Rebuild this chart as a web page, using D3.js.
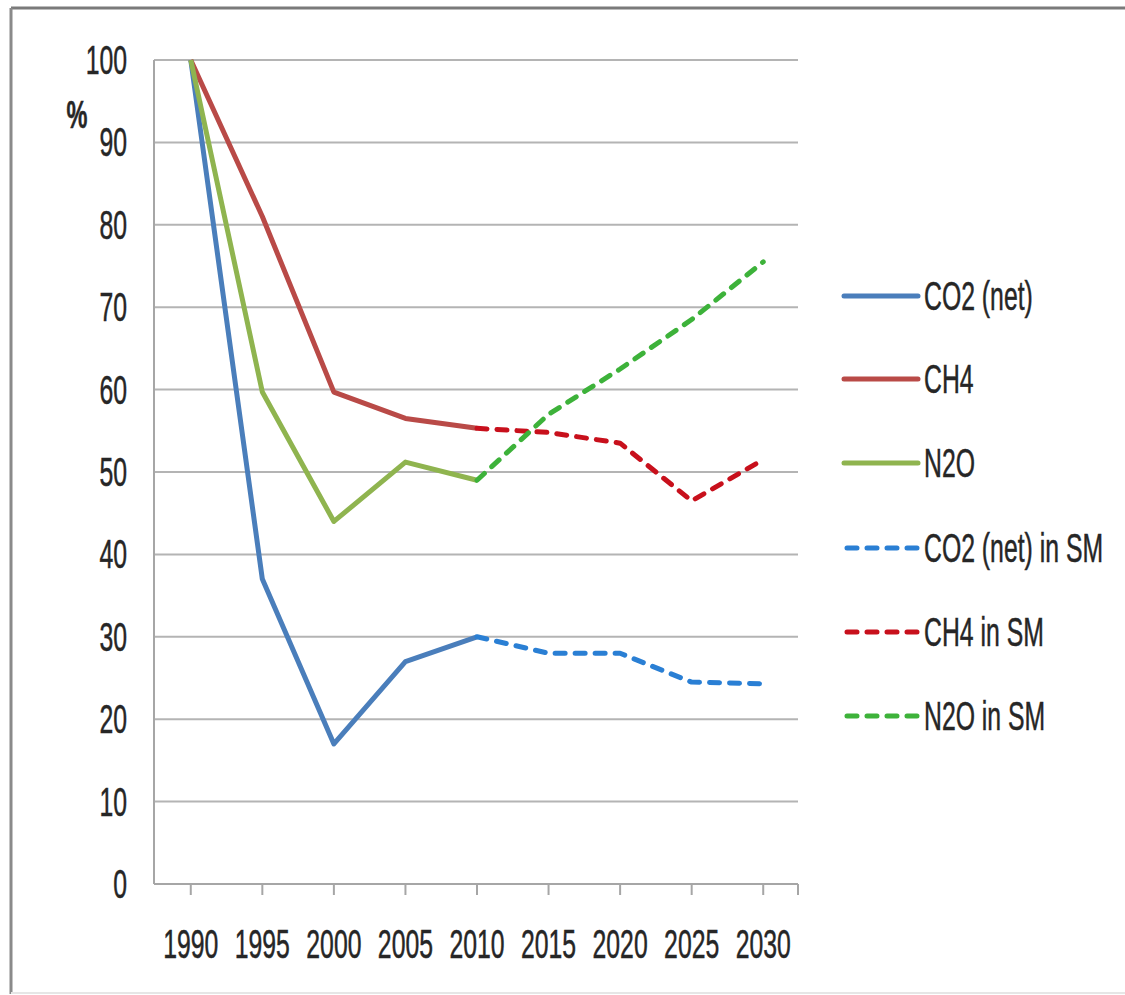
<!DOCTYPE html>
<html><head><meta charset="utf-8">
<script src="https://cdn.jsdelivr.net/npm/d3@7"></script>
<style>body{margin:0;background:#fff}text{font-family:"Liberation Sans",Arial,sans-serif;fill:#262626;stroke:#262626;stroke-width:0.5}</style>
</head><body>
<svg id="c" width="1125" height="995"></svg>
<script>
const years = ["1990","1995","2000","2005","2010","2015","2020","2025","2030"];
const yTicks = [0,10,20,30,40,50,60,70,80,90,100];
const co2 = [100,37,17,27,30,null,null,null,null];
const ch4 = [100,81,59.7,56.5,55.3,null,null,null,null];
const n2o = [100,59.7,44,51.2,49,null,null,null,null];
const co2SM = [null,null,null,null,30,28,28,24.5,24.3];
const ch4SM = [null,null,null,null,55.3,54.8,53.5,46.5,51.5];
const n2oSM = [null,null,null,null,49,57,62.5,68.5,75.5];
const seriesNames = ["CO2 (net)","CH4","N2O","CO2 (net) in SM","CH4 in SM","N2O in SM"];
const seriesData = [co2,ch4,n2o,co2SM,ch4SM,n2oSM];
const seriesColors = ["#4a7ebb","#b94a47","#8fb44f","#2a7fd4","#c8101c","#3db23a"];
const seriesDashed = [false,false,false,true,true,true];

const svg = d3.select("#c");
const L=154,R=798,T=60,B=884;
const x = d3.scaleBand().domain(years).range([L+1,R+1]);
const cx = d => x(d)+x.bandwidth()/2;
const y = d3.scaleLinear().domain([0,100]).range([B,T]);
const SX=0.62, FS=40;
function txt(g,s,px,py,anchor){
  return g.append("text").attr("transform",`translate(${px},${py}) scale(${SX},1)`)
    .attr("text-anchor",anchor).attr("font-size",FS).text(s);
}
// border
svg.append("line").attr("x1",11).attr("x2",1125).attr("y1",8).attr("y2",8).attr("stroke","#7a7a7a").attr("stroke-width",3);
svg.append("line").attr("x1",11).attr("x2",11).attr("y1",8).attr("y2",994).attr("stroke","#8a8a8a").attr("stroke-width",3);
svg.append("line").attr("x1",11).attr("x2",1125).attr("y1",993).attr("y2",993).attr("stroke","#e6e6e6").attr("stroke-width",2);

// gridlines
svg.append("g").selectAll("line").data(yTicks.filter(d=>d>0)).join("line")
  .attr("x1",L).attr("x2",R).attr("y1",d=>y(d)).attr("y2",d=>y(d))
  .attr("stroke","#b4b4b4").attr("stroke-width",2);
// axes
svg.append("line").attr("x1",L).attr("x2",L).attr("y1",T).attr("y2",B).attr("stroke","#a6a6a6").attr("stroke-width",2);
svg.append("line").attr("x1",L).attr("x2",R).attr("y1",B).attr("y2",B).attr("stroke","#a6a6a6").attr("stroke-width",2);
const tickXs = years.map(cx).concat([R]);
svg.append("g").selectAll("line").data(tickXs).join("line")
  .attr("x1",d=>d).attr("x2",d=>d).attr("y1",B).attr("y2",B+11).attr("stroke","#a6a6a6").attr("stroke-width",2);

const gl = svg.append("g");
yTicks.forEach(t=>txt(gl,String(t),127,y(t)+14,"end"));
years.forEach(yr=>txt(gl,yr,cx(yr),958,"middle"));
txt(gl,"%",77,128,"middle").attr("font-size",38).attr("font-weight","bold");

// lines
const line = d3.line().defined(d=>d!=null).x((d,i)=>cx(years[i])).y(d=>y(d));
seriesData.forEach((s,i)=>{
  svg.append("path").attr("d",line(s)).attr("fill","none")
    .attr("stroke",seriesColors[i]).attr("stroke-width",5)
    .attr("stroke-linejoin","round")
    .attr("stroke-linecap",seriesDashed[i]?"round":"butt")
    .attr("stroke-dasharray",seriesDashed[i]?"10,10":null);
});

// legend
const legY = [296,379,463,548,632,716];
seriesNames.forEach((n,i)=>{
  svg.append("line").attr("x1",seriesDashed[i]?847:844).attr("x2",seriesDashed[i]?917:918)
    .attr("y1",legY[i]).attr("y2",legY[i])
    .attr("stroke",seriesColors[i]).attr("stroke-width",5)
    .attr("stroke-linecap","round")
    .attr("stroke-dasharray",seriesDashed[i]?"10,10":null);
  txt(gl,n,924,legY[i]+14,"start");
});
</script>
</body></html>
